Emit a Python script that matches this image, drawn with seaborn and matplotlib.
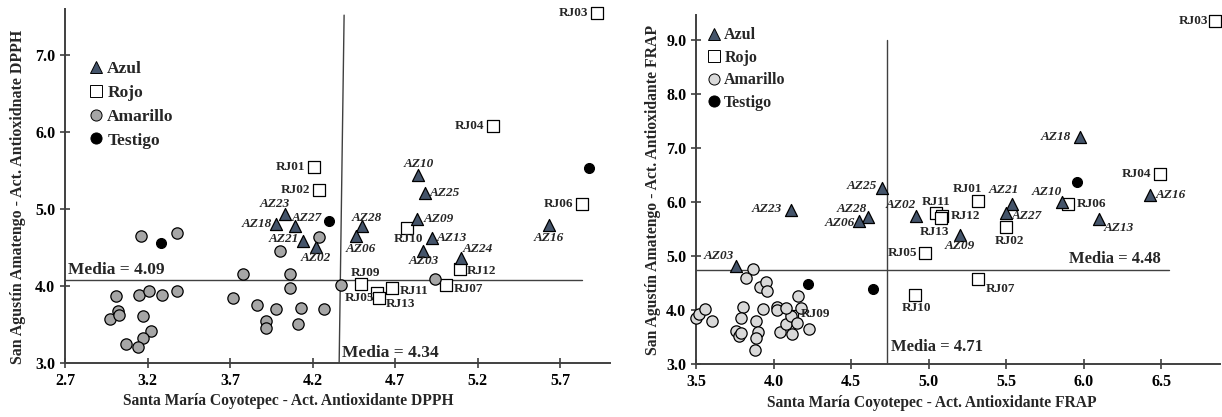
import matplotlib
matplotlib.use("Agg")
import matplotlib.pyplot as plt
import seaborn as sns
import pandas as pd
from matplotlib.lines import Line2D

# ---------------- DPPH panel data ----------------
dpph_azul_names = ["AZ23", "AZ18", "AZ27", "AZ21", "AZ02", "AZ28", "AZ06", "AZ10",
                   "AZ25", "AZ09", "AZ13", "AZ03", "AZ24", "AZ16"]
dpph_azul_x = [4.03, 3.98, 4.09, 4.14, 4.22, 4.50, 4.46, 4.84, 4.88, 4.83, 4.92, 4.87, 5.10, 5.63]
dpph_azul_y = [4.94, 4.81, 4.78, 4.58, 4.51, 4.78, 4.65, 5.44, 5.21, 4.87, 4.63, 4.46, 4.36, 4.79]

dpph_rojo_names = ["RJ01", "RJ02", "RJ03", "RJ04", "RJ05", "RJ06", "RJ07", "RJ09",
                   "RJ10", "RJ11", "RJ12", "RJ13"]
dpph_rojo_x = [4.21, 4.24, 5.92, 5.29, 4.59, 5.83, 5.01, 4.49, 4.77, 4.68, 5.09, 4.60]
dpph_rojo_y = [5.55, 5.25, 7.55, 6.08, 3.91, 5.06, 4.01, 4.03, 4.75, 3.97, 4.22, 3.85]

dpph_amarillo_x = [3.16, 3.38, 3.01, 3.15, 3.21, 3.29, 3.38, 2.97, 3.02, 3.03, 3.17, 3.22,
                   3.17, 3.07, 3.14, 3.78, 4.06, 4.06, 4.00, 4.24, 3.72, 3.86, 3.98, 3.92,
                   3.92, 4.11, 4.13, 4.27, 4.37, 4.94]
dpph_amarillo_y = [4.65, 4.69, 3.87, 3.88, 3.94, 3.89, 3.94, 3.57, 3.68, 3.63, 3.61, 3.41,
                   3.33, 3.25, 3.21, 4.16, 4.16, 3.98, 4.46, 4.64, 3.85, 3.76, 3.70, 3.55,
                   3.45, 3.51, 3.71, 3.70, 4.02, 4.09]

dpph_testigo_x = [3.28, 4.30, 5.87]
dpph_testigo_y = [4.56, 4.85, 5.53]

dpph_media_x_label = "Media = 4.34"
dpph_media_y_label = "Media = 4.09"
dpph_hline_y = 4.08
dpph_hline_x = [2.7, 5.83]
dpph_vline_x = [4.36, 4.39]
dpph_vline_y = [3.0, 7.52]

# ---------------- FRAP panel data ----------------
frap_azul_names = ["AZ03", "AZ23", "AZ25", "AZ28", "AZ06", "AZ02", "AZ09", "AZ21",
                   "AZ27", "AZ10", "AZ18", "AZ16", "AZ13"]
frap_azul_x = [3.76, 4.11, 4.70, 4.61, 4.55, 4.92, 5.20, 5.54, 5.50, 5.86, 5.98, 6.43, 6.10]
frap_azul_y = [4.81, 5.85, 6.25, 5.73, 5.64, 5.74, 5.39, 5.96, 5.80, 6.00, 7.20, 6.13, 5.68]

frap_rojo_names = ["RJ01", "RJ02", "RJ03", "RJ04", "RJ05", "RJ06", "RJ07", "RJ09",
                   "RJ10", "RJ11", "RJ12", "RJ13"]
frap_rojo_x = [5.32, 5.50, 6.85, 6.49, 4.98, 5.90, 5.32, 4.12, 4.91, 5.05, 5.09, 5.08]
frap_rojo_y = [6.01, 5.54, 9.34, 6.52, 5.06, 5.96, 4.57, 3.88, 4.28, 5.79, 5.74, 5.71]

frap_amarillo_x = [3.87, 3.82, 3.91, 3.95, 3.96, 4.16, 4.18, 3.93, 4.02, 4.02, 3.80, 3.79,
                   3.76, 3.78, 3.79, 3.89, 3.90, 3.89, 3.88, 4.04, 4.08, 4.11, 4.12, 4.15,
                   4.23, 3.50, 3.52, 3.56, 3.60, 4.08]
frap_amarillo_y = [4.75, 4.59, 4.42, 4.52, 4.36, 4.26, 4.03, 4.02, 4.06, 4.00, 4.05, 3.85,
                   3.62, 3.52, 3.57, 3.80, 3.60, 3.48, 3.26, 3.59, 3.74, 3.89, 3.55, 3.76,
                   3.64, 3.86, 3.93, 4.01, 3.80, 4.04]

frap_testigo_x = [4.22, 4.64, 5.96]
frap_testigo_y = [4.48, 4.38, 6.36]

frap_media_x_label = "Media = 4.71"
frap_media_y_label = "Media = 4.48"
frap_hline_y = 4.74
frap_hline_x = [3.5, 6.55]
frap_vline_x = [4.73, 4.73]
frap_vline_y = [3.0, 9.0]

# ---------------- label offsets (pixels: dx, dy, ha) ----------------
dpph_offsets = {
    "RJ01": (-9, 0, "right"), "RJ02": (-9, 0, "right"), "AZ23": (-10, 10, "center"),
    "AZ18": (-4, 0, "right"), "AZ27": (-3, 8, "left"), "AZ21": (-4, 2, "right"),
    "AZ02": (0, -11, "center"), "AZ28": (5, 8, "center"), "AZ06": (5, -13, "center"),
    "AZ10": (0, 11, "center"), "AZ25": (5, 0, "left"), "AZ09": (7, 0, "left"),
    "RJ10": (2, -11, "center"), "AZ13": (5, 0, "left"), "AZ03": (0, -10, "center"),
    "AZ24": (1, 9, "left"), "RJ12": (7, -2, "left"), "RJ07": (7, -4, "left"),
    "RJ09": (5, 11, "center"), "RJ05": (-3, -5, "right"), "RJ13": (7, -6, "left"),
    "RJ11": (8, -3, "left"), "AZ16": (0, -13, "center"), "RJ06": (-9, 0, "right"),
    "RJ04": (-9, 0, "right"), "RJ03": (-9, 0, "right"),
}
frap_offsets = {
    "AZ03": (-2, 10, "right"), "AZ23": (-9, 1, "right"), "AZ28": (-1, 8, "right"),
    "AZ06": (-4, -2, "right"), "AZ25": (-5, 2, "right"), "AZ02": (0, 11, "right"),
    "RJ11": (0, 11, "center"), "RJ12": (8, 0, "left"), "RJ13": (-6, -14, "center"),
    "AZ09": (0, -11, "center"), "RJ05": (-8, 0, "right"), "RJ10": (2, -13, "center"),
    "RJ01": (-11, 12, "center"), "AZ21": (-8, 14, "center"), "AZ27": (6, -3, "left"),
    "RJ02": (3, -14, "center"), "RJ07": (8, -10, "left"), "RJ09": (9, 2, "left"),
    "AZ10": (-15, 10, "center"), "RJ06": (9, 0, "left"), "AZ18": (-10, 0, "right"),
    "RJ04": (-8, 0, "right"), "AZ16": (5, 0, "left"), "AZ13": (5, -9, "left"),
    "RJ03": (-7, 0, "right"),
}

# ---------------- style ----------------
sns.set_style("ticks")
plt.rcParams["font.family"] = ["Liberation Serif", "DejaVu Serif"]
plt.rcParams["font.weight"] = "bold"
plt.rcParams["axes.labelweight"] = "bold"

AZUL = "#44546A"
DARK = "#404040"

fig = plt.figure(figsize=(12.22, 4.17), dpi=100)
ax1 = fig.add_axes([65 / 1222, 54 / 417, 545 / 1222, 354 / 417])
ax2 = fig.add_axes([696 / 1222, 53 / 417, 524 / 1222, 349 / 417])


def draw_panel(ax, az_n, az_x, az_y, rj_n, rj_x, rj_y, am_x, am_y, te_x, te_y,
               am_color, offsets, hline_x, hline_y, vline_x, vline_y):
    ax.plot(hline_x, [hline_y, hline_y], color=DARK, lw=1.0, zorder=1)
    ax.plot(vline_x, vline_y, color=DARK, lw=1.0, zorder=1)
    az = pd.DataFrame({"x": az_x, "y": az_y})
    rj = pd.DataFrame({"x": rj_x, "y": rj_y})
    am = pd.DataFrame({"x": am_x, "y": am_y})
    te = pd.DataFrame({"x": te_x, "y": te_y})
    sns.scatterplot(data=az, x="x", y="y", marker="^", color=AZUL, edgecolor="black",
                    linewidth=0.9, s=75, ax=ax, zorder=3, clip_on=False)
    sns.scatterplot(data=rj, x="x", y="y", marker="s", color="white", edgecolor="black",
                    linewidth=0.9, s=65, ax=ax, zorder=2, clip_on=False)
    sns.scatterplot(data=am, x="x", y="y", marker="o", color=am_color, edgecolor="black",
                    linewidth=0.9, s=66, ax=ax, zorder=4, clip_on=False)
    sns.scatterplot(data=te, x="x", y="y", marker="o", color="black", edgecolor="black",
                    linewidth=0.9, s=50, ax=ax, zorder=5, clip_on=False)
    for n, x, y in zip(az_n, az_x, az_y):
        dx, dy, ha = offsets[n]
        ax.annotate(n, (x, y), xytext=(dx, dy), textcoords="offset pixels", ha=ha,
                    va="center", fontsize=9.5, fontstyle="italic", fontweight="bold", zorder=6)
    for n, x, y in zip(rj_n, rj_x, rj_y):
        dx, dy, ha = offsets[n]
        ax.annotate(n, (x, y), xytext=(dx, dy), textcoords="offset pixels", ha=ha,
                    va="center", fontsize=9.5, fontweight="bold", zorder=6)
    for s in ["top", "right"]:
        ax.spines[s].set_visible(False)
    for s in ["left", "bottom"]:
        ax.spines[s].set_color(DARK)
        ax.spines[s].set_linewidth(1.4)
    ax.tick_params(direction="inout", length=7, width=1.2, color=DARK,
                   labelsize=11.5, labelcolor="black")


draw_panel(ax1, dpph_azul_names, dpph_azul_x, dpph_azul_y, dpph_rojo_names, dpph_rojo_x,
           dpph_rojo_y, dpph_amarillo_x, dpph_amarillo_y, dpph_testigo_x, dpph_testigo_y,
           "#A6A6A6", dpph_offsets, dpph_hline_x, dpph_hline_y, dpph_vline_x, dpph_vline_y)
draw_panel(ax2, frap_azul_names, frap_azul_x, frap_azul_y, frap_rojo_names, frap_rojo_x,
           frap_rojo_y, frap_amarillo_x, frap_amarillo_y, frap_testigo_x, frap_testigo_y,
           "#D9D9D9", frap_offsets, frap_hline_x, frap_hline_y, frap_vline_x, frap_vline_y)

dpph_xticks = [2.7, 3.2, 3.7, 4.2, 4.7, 5.2, 5.7]
dpph_yticks = [3.0, 4.0, 5.0, 6.0, 7.0]
frap_xticks = [3.5, 4.0, 4.5, 5.0, 5.5, 6.0, 6.5]
frap_yticks = [3.0, 4.0, 5.0, 6.0, 7.0, 8.0, 9.0]

ax1.set_xlim(2.7, 6.0)
ax1.set_ylim(3.0, 7.6)
ax1.set_xticks(dpph_xticks)
ax1.set_xticklabels([f"{v:.1f}" for v in dpph_xticks], fontweight="bold")
ax1.set_yticks(dpph_yticks)
ax1.set_yticklabels([f"{v:.1f}" for v in dpph_yticks], fontweight="bold")
ax1.set_xlabel("Santa María Coyotepec - Act. Antioxidante DPPH", fontsize=11.2,
               fontweight="bold", labelpad=2)
ax1.xaxis.set_label_coords(0.41, -0.085)
ax1.set_ylabel("San Agustín Amatengo - Act. Antioxidnate DPPH", fontsize=11.4,
               fontweight="bold", labelpad=4)
ax1.yaxis.set_label_coords(-0.072, 0.47)

ax2.set_xlim(3.5, 6.88)
ax2.set_ylim(3.0, 9.46)
ax2.set_xticks(frap_xticks)
ax2.set_xticklabels([f"{v:.1f}" for v in frap_xticks], fontweight="bold")
ax2.set_yticks(frap_yticks)
ax2.set_yticklabels([f"{v:.1f}" for v in frap_yticks], fontweight="bold")
ax2.set_xlabel("Santa María Coyotepec - Act. Antioxidante FRAP", fontsize=11.2,
               fontweight="bold", labelpad=2)
ax2.xaxis.set_label_coords(0.45, -0.088)
ax2.set_ylabel("San Agustín Amatengo - Act. Antioxidante FRAP", fontsize=11.3,
               fontweight="bold", labelpad=4)

# media texts
ax1.text(2.72, dpph_hline_y + 0.03, dpph_media_y_label, fontsize=12.5, fontweight="bold",
         ha="left", va="bottom")
ax1.text(4.38, 3.13, dpph_media_x_label, fontsize=12.5, fontweight="bold",
         ha="left", va="center")
ax2.text(6.50, frap_hline_y + 0.06, frap_media_y_label, fontsize=12, fontweight="bold",
         ha="right", va="bottom")
ax2.text(4.76, 3.31, frap_media_x_label, fontsize=12, fontweight="bold",
         ha="left", va="center")


def make_legend(ax, am_color, fs, anchor, spacing):
    handles = [
        Line2D([], [], ls="", marker="^", markersize=8, markerfacecolor=AZUL,
               markeredgecolor="black", markeredgewidth=0.7),
        Line2D([], [], ls="", marker="s", markersize=8, markerfacecolor="white",
               markeredgecolor="black", markeredgewidth=0.7),
        Line2D([], [], ls="", marker="o", markersize=8, markerfacecolor=am_color,
               markeredgecolor="black", markeredgewidth=0.7),
        Line2D([], [], ls="", marker="o", markersize=8, markerfacecolor="black",
               markeredgecolor="black", markeredgewidth=0.7),
    ]
    ax.legend(handles, ["Azul", "Rojo", "Amarillo", "Testigo"], loc="upper left",
              bbox_to_anchor=anchor, frameon=False, handlelength=0.8,
              handletextpad=0.25, labelspacing=spacing, borderpad=0, borderaxespad=0,
              prop={"weight": "bold", "size": fs})


make_legend(ax1, "#A6A6A6", 12.5, (0.044, 0.853), 0.44)
make_legend(ax2, "#D9D9D9", 11.5, (0.022, 0.965), 0.41)

fig.savefig("out.png", dpi=100)
